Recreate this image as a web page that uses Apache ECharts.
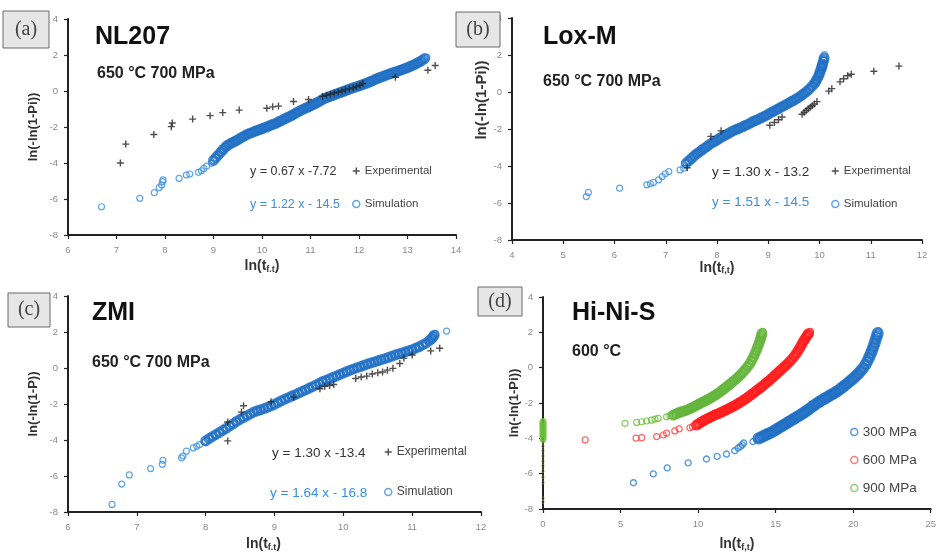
<!DOCTYPE html>
<html><head><meta charset="utf-8">
<script src="https://cdn.jsdelivr.net/npm/echarts@6/dist/echarts.min.js"></script>
<style>html,body{margin:0;padding:0;background:#fff}#c{width:939px;height:553px}</style>
</head><body><div id="c"></div><script>
// ---------- data ----------
const expA = [[7.08,-4.0],[7.19,-2.95],[7.77,-2.42],[8.13,-1.98],[8.15,-1.78],[8.57,-1.56],[8.93,-1.37],[9.19,-1.2],[9.53,-1.06],[10.1,-0.96],[10.22,-0.88],[10.34,-0.84],[10.65,-0.58],[10.96,-0.47],[11.25,-0.3],[11.33,-0.24],[11.41,-0.18],[11.49,-0.12],[11.57,-0.07],[11.65,0.0],[11.72,0.06],[11.8,0.12],[11.88,0.18],[11.95,0.25],[12.02,0.32],[12.08,0.42],[12.75,0.76],[13.42,1.15],[13.57,1.42]];
const simASparse = [[6.69,-6.43],[7.48,-5.96],[7.78,-5.65],[7.88,-5.37],[7.93,-5.22],[7.95,-5.04],[7.96,-4.94],[8.29,-4.85],[8.44,-4.67],[8.51,-4.61],[8.69,-4.52],[8.75,-4.43],[8.8,-4.3],[8.86,-4.17],[8.96,-4.02],[13.4,1.88]];
const simADense = [[9.0,-3.85],[9.05,-3.7],[9.1,-3.55],[9.15,-3.4],[9.2,-3.25],[9.25,-3.1],[9.3,-3.0],[9.35,-2.92],[9.4,-2.85],[9.45,-2.78],[9.5,-2.72],[9.55,-2.62],[9.6,-2.55],[9.65,-2.48],[9.7,-2.4],[9.75,-2.35],[9.8,-2.3],[9.85,-2.24],[9.9,-2.2],[9.95,-2.14],[10.0,-2.1],[10.05,-2.04],[10.1,-2.0],[10.15,-1.93],[10.2,-1.88],[10.25,-1.83],[10.3,-1.78],[10.35,-1.7],[10.4,-1.65],[10.45,-1.57],[10.5,-1.5],[10.55,-1.44],[10.6,-1.38],[10.65,-1.3],[10.7,-1.22],[10.75,-1.15],[10.8,-1.08],[10.85,-1.01],[10.9,-0.95],[10.95,-0.89],[11.0,-0.83],[11.05,-0.76],[11.1,-0.7],[11.15,-0.62],[11.2,-0.55],[11.25,-0.47],[11.3,-0.4],[11.35,-0.35],[11.4,-0.3],[11.45,-0.25],[11.5,-0.2],[11.55,-0.15],[11.6,-0.1],[11.65,-0.05],[11.7,0.0],[11.75,0.05],[11.8,0.1],[11.85,0.15],[11.9,0.2],[11.95,0.24],[12.0,0.28],[12.05,0.33],[12.1,0.38],[12.15,0.43],[12.2,0.48],[12.25,0.54],[12.3,0.6],[12.35,0.66],[12.4,0.72],[12.45,0.77],[12.5,0.82],[12.55,0.87],[12.6,0.92],[12.65,0.97],[12.7,1.02],[12.75,1.06],[12.8,1.1],[12.85,1.15],[12.9,1.2],[12.95,1.25],[13.0,1.3],[13.05,1.36],[13.1,1.42],[13.15,1.48],[13.2,1.55],[13.25,1.62],[13.3,1.7],[13.35,1.8]];

const expB = [[7.42,-4.1],[7.88,-2.4],[8.08,-2.1],[9.03,-1.8],[9.12,-1.65],[9.2,-1.5],[9.27,-1.35],[9.66,-1.2],[9.7,-1.1],[9.74,-1.0],[9.78,-0.9],[9.82,-0.82],[9.86,-0.74],[9.9,-0.65],[9.95,-0.52],[10.18,0.05],[10.24,0.18],[10.4,0.55],[10.47,0.72],[10.55,0.88],[10.62,0.96],[11.06,1.12],[11.55,1.4]];
const simBSparse = [[5.45,-5.65],[5.49,-5.43],[6.1,-5.2],[6.63,-5.02],[6.7,-4.96],[6.76,-4.89],[6.86,-4.75],[6.93,-4.57],[6.99,-4.42],[7.06,-4.3],[7.28,-4.21],[7.35,-4.12],[10.1,2.02]];
const simBDense = [[7.4,-3.85],[7.45,-3.72],[7.5,-3.6],[7.55,-3.47],[7.6,-3.35],[7.65,-3.25],[7.7,-3.15],[7.75,-3.05],[7.8,-2.95],[7.85,-2.85],[7.9,-2.75],[7.95,-2.68],[8.0,-2.6],[8.05,-2.5],[8.1,-2.42],[8.15,-2.35],[8.2,-2.28],[8.25,-2.2],[8.3,-2.12],[8.35,-2.06],[8.4,-2.0],[8.45,-1.94],[8.5,-1.88],[8.55,-1.81],[8.6,-1.75],[8.65,-1.68],[8.7,-1.6],[8.75,-1.54],[8.8,-1.48],[8.85,-1.41],[8.9,-1.35],[8.95,-1.28],[9.0,-1.2],[9.05,-1.12],[9.1,-1.05],[9.15,-0.97],[9.2,-0.9],[9.25,-0.82],[9.3,-0.75],[9.35,-0.67],[9.4,-0.6],[9.45,-0.52],[9.5,-0.45],[9.55,-0.36],[9.6,-0.28],[9.65,-0.18],[9.7,-0.08],[9.75,0.03],[9.8,0.15],[9.85,0.3],[9.9,0.45],[9.93,0.58],[9.95,0.7],[9.98,0.85],[10.0,1.0],[10.02,1.15],[10.04,1.3],[10.05,1.4],[10.06,1.52],[10.08,1.7],[10.09,1.85]];

const expC = [[8.32,-4.05],[8.32,-3.0],[8.52,-2.45],[8.55,-2.1],[8.95,-1.88],[9.28,-1.62],[9.66,-1.15],[9.73,-1.02],[9.8,-0.97],[9.86,-0.92],[10.18,-0.58],[10.26,-0.5],[10.34,-0.45],[10.42,-0.33],[10.5,-0.27],[10.57,-0.22],[10.64,-0.12],[10.72,-0.02],[10.82,0.25],[10.88,0.55],[11.0,0.72],[11.27,0.95],[11.4,1.1]];
const simCSparse = [[6.64,-7.58],[6.78,-6.45],[6.89,-5.94],[7.2,-5.59],[7.37,-5.35],[7.38,-5.13],[7.65,-4.99],[7.67,-4.89],[7.72,-4.62],[7.82,-4.44],[7.87,-4.35],[7.91,-4.26],[7.99,-4.11],[11.34,1.92],[11.5,2.05]];
const simCDense = [[8.0,-4.05],[8.05,-3.92],[8.1,-3.8],[8.15,-3.69],[8.2,-3.58],[8.25,-3.46],[8.3,-3.35],[8.35,-3.22],[8.4,-3.1],[8.45,-2.97],[8.5,-2.85],[8.55,-2.75],[8.6,-2.65],[8.65,-2.55],[8.7,-2.45],[8.75,-2.38],[8.8,-2.32],[8.85,-2.25],[8.9,-2.18],[8.95,-2.1],[9.0,-2.02],[9.05,-1.92],[9.1,-1.82],[9.15,-1.73],[9.2,-1.65],[9.25,-1.56],[9.3,-1.48],[9.35,-1.39],[9.4,-1.3],[9.45,-1.22],[9.5,-1.13],[9.55,-1.04],[9.6,-0.95],[9.65,-0.85],[9.7,-0.75],[9.75,-0.68],[9.8,-0.6],[9.85,-0.52],[9.9,-0.45],[9.95,-0.36],[10.0,-0.28],[10.05,-0.2],[10.1,-0.12],[10.15,-0.05],[10.2,0.02],[10.25,0.08],[10.3,0.15],[10.35,0.22],[10.4,0.28],[10.45,0.34],[10.5,0.4],[10.55,0.46],[10.6,0.52],[10.65,0.58],[10.7,0.65],[10.75,0.72],[10.8,0.78],[10.85,0.84],[10.9,0.9],[10.95,0.96],[11.0,1.02],[11.05,1.1],[11.1,1.18],[11.15,1.28],[11.2,1.38],[11.25,1.52],[11.28,1.62],[11.3,1.72],[11.32,1.82]];

const mpa300Sparse = [[5.83,-6.51],[7.11,-6.01],[8.01,-5.67],[9.36,-5.39],[10.54,-5.17],[11.23,-5.02],[11.83,-4.89],[12.36,-4.7],[12.58,-4.55],[12.73,-4.46],[12.85,-4.37],[12.94,-4.26],[13.54,-4.18],[13.8,-4.09],[21.65,2.08]];
const mpa300Dense = [[13.9,-4.0],[14.05,-3.95],[14.2,-3.88],[14.35,-3.82],[14.5,-3.75],[14.65,-3.7],[14.8,-3.63],[14.95,-3.55],[15.1,-3.47],[15.25,-3.39],[15.4,-3.31],[15.55,-3.23],[15.7,-3.15],[15.85,-3.07],[16.0,-2.99],[16.15,-2.91],[16.3,-2.83],[16.45,-2.75],[16.6,-2.67],[16.75,-2.59],[16.9,-2.5],[17.05,-2.4],[17.2,-2.31],[17.35,-2.21],[17.5,-2.12],[17.65,-2.03],[17.8,-1.94],[17.95,-1.86],[18.1,-1.78],[18.25,-1.71],[18.4,-1.63],[18.55,-1.55],[18.7,-1.48],[18.85,-1.4],[19.0,-1.32],[19.15,-1.22],[19.3,-1.12],[19.45,-1.01],[19.6,-0.91],[19.75,-0.8],[19.9,-0.69],[20.05,-0.58],[20.2,-0.45],[20.35,-0.32],[20.5,-0.17],[20.65,-0.02],[20.8,0.18],[20.92,0.38],[21.03,0.58],[21.13,0.78],[21.22,0.98],[21.3,1.18],[21.38,1.38],[21.45,1.58],[21.52,1.78],[21.58,1.95]];
const mpa600Sparse = [[2.72,-4.09],[6.0,-3.99],[6.36,-3.96],[7.33,-3.9],[7.76,-3.81],[7.97,-3.71],[8.5,-3.58],[8.78,-3.47],[9.47,-3.4],[9.64,-3.34],[17.25,2.05]];
const mpa600Dense = [[9.9,-3.25],[10.05,-3.17],[10.2,-3.08],[10.35,-3.01],[10.5,-2.93],[10.65,-2.87],[10.8,-2.8],[10.95,-2.73],[11.1,-2.67],[11.25,-2.62],[11.4,-2.57],[11.55,-2.5],[11.7,-2.44],[11.85,-2.38],[12.0,-2.31],[12.15,-2.24],[12.3,-2.17],[12.45,-2.1],[12.6,-2.02],[12.75,-1.94],[12.9,-1.86],[13.05,-1.77],[13.2,-1.68],[13.35,-1.58],[13.5,-1.48],[13.65,-1.38],[13.8,-1.28],[13.95,-1.18],[14.1,-1.08],[14.25,-0.97],[14.4,-0.86],[14.55,-0.76],[14.7,-0.64],[14.85,-0.52],[15.0,-0.4],[15.15,-0.28],[15.3,-0.16],[15.45,-0.04],[15.6,0.08],[15.75,0.2],[15.9,0.34],[16.05,0.48],[16.2,0.64],[16.33,0.8],[16.45,0.96],[16.56,1.12],[16.66,1.28],[16.76,1.44],[16.86,1.58],[16.96,1.72],[17.05,1.84],[17.13,1.94]];
const mpa900Sparse = [[5.29,-3.15],[6.04,-3.1],[6.36,-3.06],[6.68,-3.02],[7.0,-2.97],[7.22,-2.91],[7.43,-2.87],[7.97,-2.78],[8.18,-2.72],[14.18,2.05]];
const mpa900Dense = [[8.4,-2.69],[8.55,-2.63],[8.7,-2.57],[8.85,-2.51],[9.0,-2.48],[9.15,-2.44],[9.3,-2.39],[9.45,-2.33],[9.6,-2.27],[9.75,-2.2],[9.9,-2.13],[10.05,-2.06],[10.2,-1.99],[10.35,-1.93],[10.5,-1.86],[10.65,-1.79],[10.8,-1.72],[10.95,-1.64],[11.1,-1.56],[11.25,-1.47],[11.4,-1.38],[11.55,-1.28],[11.7,-1.18],[11.85,-1.07],[12.0,-0.97],[12.15,-0.86],[12.3,-0.75],[12.45,-0.64],[12.6,-0.52],[12.75,-0.39],[12.9,-0.25],[13.05,-0.1],[13.2,0.06],[13.33,0.22],[13.45,0.4],[13.55,0.58],[13.65,0.76],[13.74,0.94],[13.82,1.12],[13.9,1.3],[13.97,1.48],[14.03,1.64],[14.08,1.8],[14.12,1.94]];
const mpa900AtZero = [[0,-3.05],[0,-3.15],[0,-3.25],[0,-3.35],[0,-3.45],[0,-3.55],[0,-3.65],[0,-3.75],[0,-3.85],[0,-3.95],[0,-4.05]];
const oliveAtZero = [[0,-4.2],[0,-4.45],[0,-4.7],[0,-5.0],[0,-5.3],[0,-5.55],[0,-5.85],[0,-6.2],[0,-6.5],[0,-7.4],[0,-7.6]];

const yTicks = {min:-8, max:4, interval:2};
const xRanges = [{min:6,max:14,interval:1},{min:4,max:12,interval:1},{min:6,max:12,interval:1},{min:0,max:25,interval:5}];

// ---------- styling ----------
const FONT = "'Liberation Sans', Arial, sans-serif";
const PLUS = 'path://M4,0H6V4H10V6H6V10H4V6H0V4H4Z';
const SIM_BLUE = '#3d8fe0';
const DENSE_BLUE = '#1f6fc4';
const EQ_BLUE = '#3b8ee0';

const grids = [
  {left:68, top:19, width:388, height:216},
  {left:512, top:18, width:410, height:222},
  {left:68, top:296, width:413, height:219},
  {left:543, top:297, width:389, height:215}
];

const axisLine = {show:true, onZero:false, lineStyle:{color:'#222', width:2}};
const axisTick = {show:true, length:4, lineStyle:{color:'#222', width:1.2}};
const axisLabel = {color:'#8a8a8a', fontSize:9.5, fontFamily:FONT, margin:10};

const xNameRich = {
  n:{fontSize:14, fontWeight:'bold', color:'#333', fontFamily:FONT},
  s:{fontSize:9, fontWeight:'bold', color:'#333', fontFamily:FONT, verticalAlign:'bottom', padding:[6,0,0,0]}
};
function xAx(i, name, gap, pad) {
  return Object.assign({type:'value', gridIndex:i, splitLine:{show:false}, axisLine, axisTick, axisLabel,
    name, nameLocation:'middle', nameGap:gap,
    nameTextStyle:{rich:xNameRich, padding:pad||0}}, xRanges[i]);
}
function yAx(i, name, gap, size, pad) {
  return Object.assign({type:'value', gridIndex:i, splitLine:{show:false}, axisLine, axisTick, axisLabel,
    name, nameLocation:'middle', nameGap:gap,
    nameTextStyle:{fontSize:size, fontWeight:'bold', color:'#333', fontFamily:FONT, padding:pad||0}}, yTicks);
}

function plusSeries(name, i, data) {
  return {type:'scatter', name, xAxisIndex:i, yAxisIndex:i, data, symbol:PLUS, symbolSize:7,
    itemStyle:{color:'#222'}, z:4};
}
function ringSeries(name, i, data, color, size, bw) {
  return {type:'scatter', name, xAxisIndex:i, yAxisIndex:i, data, symbol:'circle', symbolSize:size,
    itemStyle:{color:'rgba(0,0,0,0)', borderColor:color, borderWidth:bw}, z:3};
}

function legendFor(items, left, top, gap, fs) {
  return {orient:'vertical', left, top, itemGap:gap, itemWidth:7, itemHeight:7, padding:0, selectedMode:false,
    data:items, formatter:n=>n.replace(/ \(.\)$/, ''),
    textStyle:{fontSize:fs, color:'#444', fontFamily:FONT}};
}
const expIcon = n => ({name:n, icon:PLUS, itemStyle:{color:'#222', borderWidth:0}});
const ringIcon = (n,c) => ({name:n, icon:'circle', itemStyle:{color:'rgba(0,0,0,0)', borderColor:c, borderWidth:1.5}});

function txt(text, x, y, font, fill, align) {
  return {type:'text', x, y, z:10, style:{text, font, fill, textAlign:align||'left', align:align||'left',
    textVerticalAlign:'middle', verticalAlign:'middle'}};
}
function box(label, x, y, w, h) {
  return [
    {type:'rect', z:9, shape:{x, y, width:w, height:h}, style:{fill:'#e6e6e6', stroke:'#6a6a6a', lineWidth:1}},
    txt(label, x + w/2, y + h/2, "20px 'Liberation Serif', 'Times New Roman', serif", '#444', 'center')
  ];
}
const TB = "bold 25px " + FONT;
const SB = "bold 16px " + FONT;

const option = {
  animation:false,
  backgroundColor:'#fff',
  grid:grids,
  xAxis:[
    xAx(0, '{n|ln(t}{s|f.t}{n|)}', 24),
    xAx(1, '{n|ln(t}{s|f,t}{n|)}', 20),
    xAx(2, '{n|ln(t}{s|f.t}{n|)}', 25, [0,22,0,0]),
    xAx(3, '{n|ln(t}{s|f,t}{n|)}', 28)
  ],
  yAxis:[
    yAx(0, 'ln(-ln(1-Pi))', 28, 13),
    yAx(1, 'ln(-ln(1-Pi))', 21, 15, [0,0,0,58]),
    yAx(2, 'ln(-ln(1-P))', 28, 13),
    yAx(3, 'ln(-ln(1-Pi))', 20, 13)
  ],
  legend:[
    legendFor([expIcon('Experimental (a)'), ringIcon('Simulation (a)', EQ_BLUE)], 352, 165, 21, 11.5),
    legendFor([expIcon('Experimental (b)'), ringIcon('Simulation (b)', EQ_BLUE)], 831, 165, 21, 11.5),
    legendFor([expIcon('Experimental (c)'), ringIcon('Simulation (c)', EQ_BLUE)], 384, 446, 28, 12),
    legendFor([ringIcon('300 MPa', '#2a7fd4'), ringIcon('600 MPa', '#ff5a5a'), ringIcon('900 MPa', '#7cc35a')], 850, 425, 14, 13.5)
  ],
  series:[
    ringSeries('Simulation (a)', 0, simASparse, SIM_BLUE, 6, 1.2),
    ringSeries('Simulation (a)', 0, simADense, DENSE_BLUE, 8, 3),
    plusSeries('Experimental (a)', 0, expA),
    ringSeries('Simulation (b)', 1, simBSparse, SIM_BLUE, 6, 1.2),
    ringSeries('Simulation (b)', 1, simBDense, DENSE_BLUE, 8, 3),
    plusSeries('Experimental (b)', 1, expB),
    ringSeries('Simulation (c)', 2, simCSparse, SIM_BLUE, 6, 1.2),
    ringSeries('Simulation (c)', 2, simCDense, DENSE_BLUE, 8, 3),
    plusSeries('Experimental (c)', 2, expC),
    ringSeries('300 MPa', 3, mpa300Sparse, '#2a7fd4', 6, 1.4),
    ringSeries('300 MPa', 3, mpa300Dense, '#1f6fc4', 9, 3.2),
    ringSeries('600 MPa', 3, mpa600Sparse, '#ff4040', 6, 1.2),
    ringSeries('600 MPa', 3, mpa600Dense, '#ff1a1a', 8, 3),
    ringSeries('900 MPa', 3, mpa900Sparse, '#6cbf3c', 6, 1.2),
    ringSeries('900 MPa', 3, mpa900Dense, '#62b43a', 8, 3),
    ringSeries('900 MPa', 3, mpa900AtZero, '#6cbf3c', 5, 2),
    ringSeries('other', 3, oliveAtZero, 'rgba(190,160,80,0.6)', 3, 1)
  ],
  graphic:[].concat(
    box('(a)', 3, 11, 46, 37),
    box('(b)', 456, 12, 44, 35),
    box('(c)', 8, 293, 42, 34),
    box('(d)', 478, 287, 44, 29),
    [
      txt('NL207', 95, 37, TB, '#111'),
      txt('650 °C 700 MPa', 97, 74, SB, '#222'),
      txt('Lox-M', 543, 37, TB, '#111'),
      txt('650 °C 700 MPa', 543, 82, SB, '#222'),
      txt('ZMI', 92, 313, TB, '#111'),
      txt('650 °C 700 MPa', 92, 363, SB, '#222'),
      txt('Hi-Ni-S', 572, 313, TB, '#111'),
      txt('600 °C', 572, 352, SB, '#222'),
      txt('y = 0.67 x -7.72', 250, 172, '12.5px ' + FONT, '#333'),
      txt('y = 1.22 x - 14.5', 250, 205, '12.5px ' + FONT, EQ_BLUE),
      txt('y = 1.30 x - 13.2', 712, 172, '13.5px ' + FONT, '#333'),
      txt('y = 1.51 x - 14.5', 712, 202, '13.5px ' + FONT, EQ_BLUE),
      txt('y = 1.30 x -13.4', 272, 453, '13.5px ' + FONT, '#333'),
      txt('y = 1.64 x - 16.8', 270, 493, '13.5px ' + FONT, EQ_BLUE)
    ]
  )
};
const chart = echarts.init(document.getElementById('c'), null, {renderer:'canvas'});
chart.setOption(option);
</script></body></html>
